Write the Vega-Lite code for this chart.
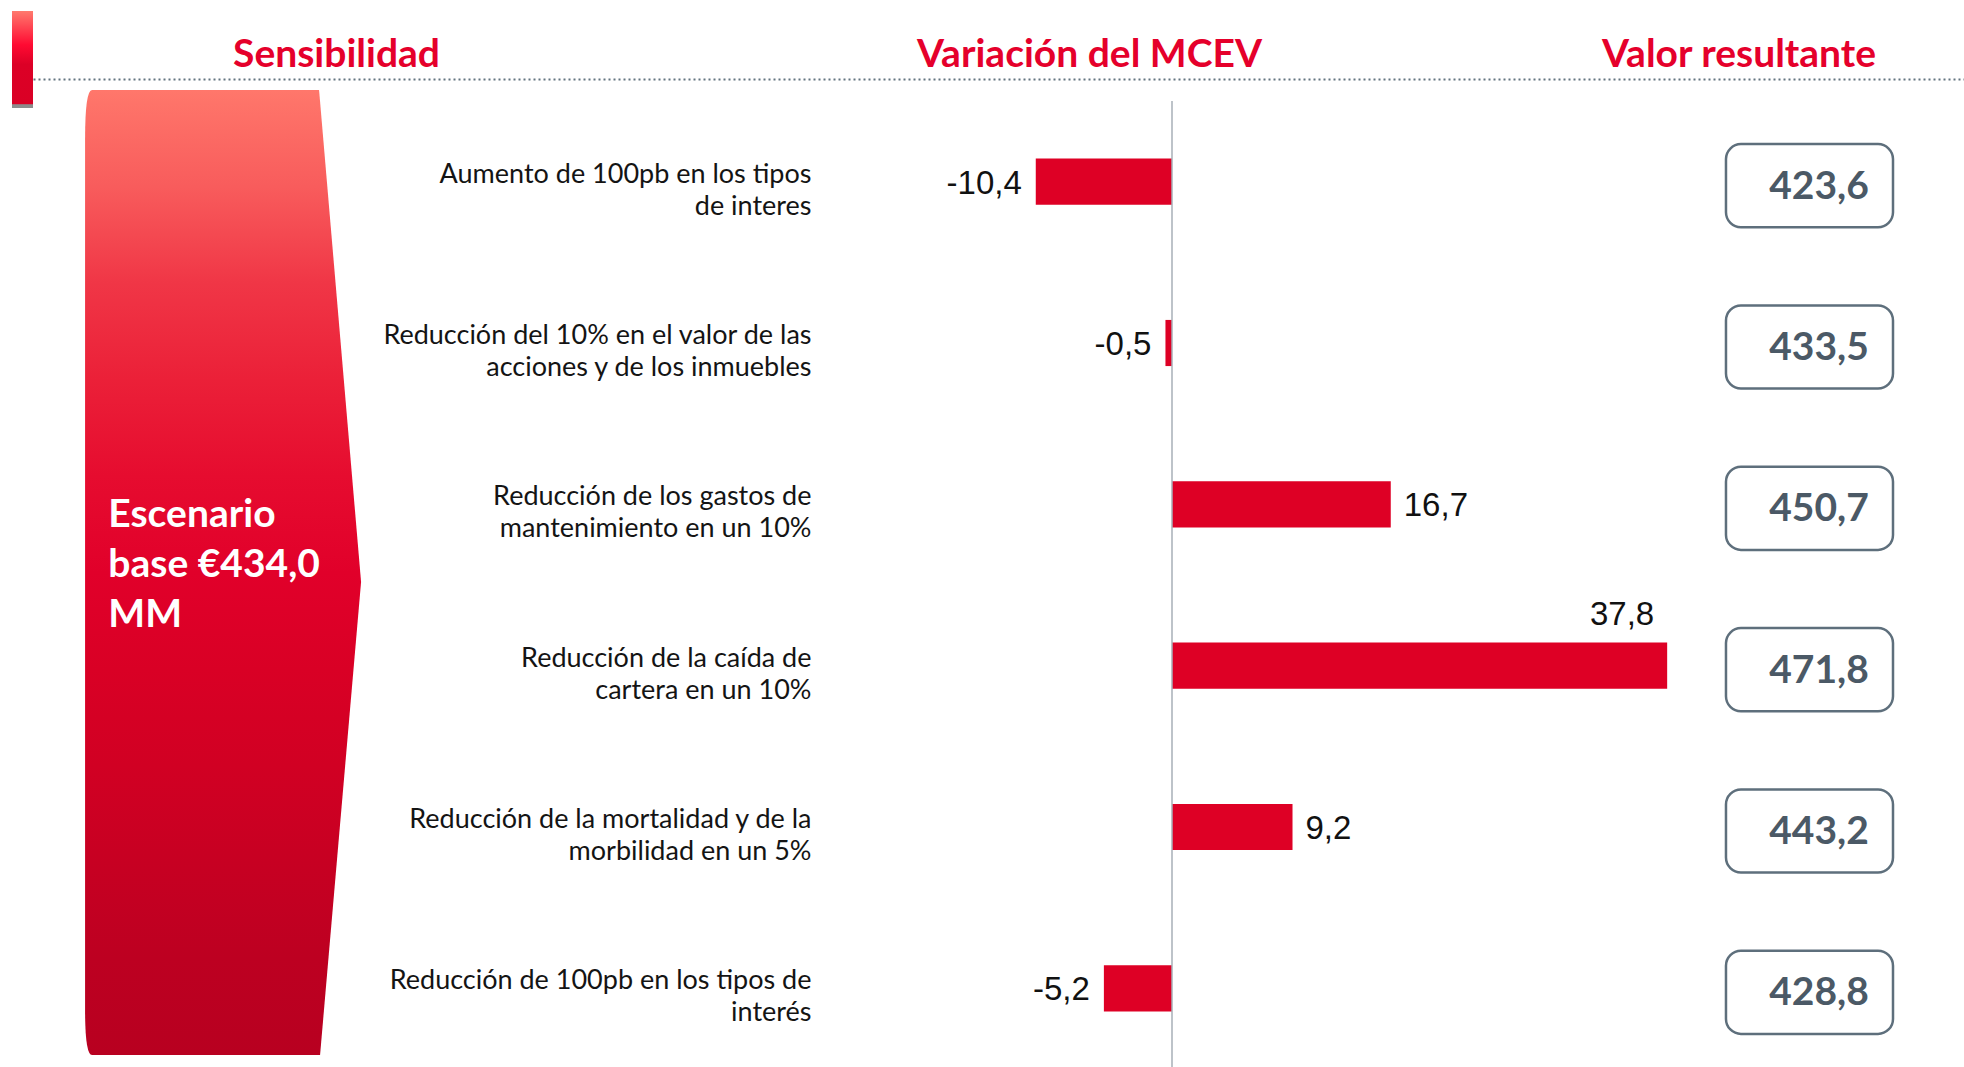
{
  "$schema": "https://vega.github.io/schema/vega-lite/v6.json",
  "autosize": "none",
  "width": 1931,
  "height": 968,
  "padding": {"left": 33, "top": 101, "right": 0, "bottom": 0},
  "background": "white",
  "config": {
    "font": "Lato",
    "view": {"stroke": null},
    "locale": {"number": {"decimal": ",", "thousands": ".", "grouping": [3], "currency": ["", " €"], "minus": "-"}}
  },
  "datasets": {
    "sensibilidades": [
      {"escenario": "Aumento de 100pb en los tipos\nde interes", "variacion": -10.4, "valor": 423.6},
      {"escenario": "Reducción del 10% en el valor de las\nacciones y de los inmuebles", "variacion": -0.5, "valor": 433.5},
      {"escenario": "Reducción de los gastos de\nmantenimiento en un 10%", "variacion": 16.7, "valor": 450.7},
      {"escenario": "Reducción de la caída de\ncartera en un 10%", "variacion": 37.8, "valor": 471.8},
      {"escenario": "Reducción de la mortalidad y de la\nmorbilidad en un 5%", "variacion": 9.2, "valor": 443.2},
      {"escenario": "Reducción de 100pb en los tipos de\ninterés", "variacion": -5.2, "valor": 428.8}
    ],
    "base": [{"texto": "Escenario\nbase €434,0\nMM", "mcev_base": 434.0}]
  },
  "resolve": {"axis": {"x": "independent", "y": "independent"}},
  "layer": [
    {
      "data": {"name": "base"},
      "mark": {
        "type": "point",
        "shape": "M -0.262 -0.99 L 0.192 -0.99 L 0.276 -0.006 L 0.194 0.94 L -0.262 0.94 Q -0.276 0.94 -0.276 0.85 L -0.276 -0.89 Q -0.276 -0.99 -0.262 -0.99 Z",
        "size": 1000000,
        "filled": true,
        "opacity": 1,
        "fillOpacity": 1,
        "strokeOpacity": 0,
        "fill": {
          "gradient": "linear", "x1": 0, "y1": 0, "x2": 0, "y2": 1,
          "stops": [
            {"offset": 0, "color": "#FF776B"},
            {"offset": 0.1, "color": "#F85C5C"},
            {"offset": 0.2, "color": "#F03646"},
            {"offset": 0.3, "color": "#EB2038"},
            {"offset": 0.4, "color": "#E60C2F"},
            {"offset": 0.5, "color": "#E1002A"},
            {"offset": 0.6, "color": "#D90025"},
            {"offset": 0.7, "color": "#D10023"},
            {"offset": 0.8, "color": "#C70022"},
            {"offset": 0.9, "color": "#BD0021"},
            {"offset": 1, "color": "#B80020"}
          ]
        }
      },
      "encoding": {
        "x": {"datum": -72.44, "type": "quantitative", "scale": {"domain": [-86.95, 60.46], "nice": false, "zero": false}, "axis": null}
      }
    },
    {
      "data": {"name": "base"},
      "mark": {
        "type": "point",
        "shape": "M -0.035 -0.9567 L 0 -0.9567 L 0 -0.795 L -0.035 -0.795 Z",
        "size": 1440000,
        "filled": true,
        "opacity": 1,
        "fillOpacity": 1,
        "strokeOpacity": 0,
        "fill": {
          "gradient": "linear", "x1": 0, "y1": 0, "x2": 0, "y2": 1,
          "stops": [
            {"offset": 0, "color": "#FF7A6E"},
            {"offset": 0.35, "color": "#FF0A32"},
            {"offset": 0.55, "color": "#DC0026"},
            {"offset": 0.96, "color": "#DA0025"},
            {"offset": 0.965, "color": "#8C8C8C"},
            {"offset": 1, "color": "#8C8C8C"}
          ]
        }
      },
      "encoding": {
        "x": {"datum": -86.95, "type": "quantitative", "scale": {"domain": [-86.95, 60.46], "nice": false, "zero": false}, "axis": null}
      }
    },
    {
      "data": {"name": "base"},
      "mark": {"type": "text", "align": "left", "baseline": "middle", "lineBreak": "\n", "lineHeight": 50, "font": "Lato", "fontSize": 39, "fontWeight": "bold", "color": "white", "dy": -70},
      "encoding": {
        "x": {"datum": -81.2, "type": "quantitative", "scale": {"domain": [-86.95, 60.46], "nice": false, "zero": false}, "axis": null},
        "text": {"field": "texto"}
      }
    },
    {
      "data": {"name": "sensibilidades"},
      "mark": {"type": "bar", "color": "#DE0025", "height": {"band": 0.286}},
      "encoding": {
        "y": {
          "field": "escenario", "type": "nominal", "sort": null,
          "scale": {"paddingInner": 0, "paddingOuter": 0},
          "axis": {
            "orient": "left", "offset": -778, "domain": false, "ticks": false, "grid": false,
            "labelPadding": 0, "labelAlign": "right", "labelBaseline": "middle",
            "labelFont": "Lato", "labelFontSize": 27, "labelColor": "#141414",
            "labelLineHeight": 32, "labelLimit": 700, "labelOffset": -7,
            "labelExpr": "split(datum.label, '\\n')",
            "title": "Sensibilidad", "titleAngle": 0, "titleX": -475, "titleY": -35,
            "titleAlign": "center", "titleBaseline": "alphabetic",
            "titleFont": "Lato", "titleFontSize": 39, "titleFontWeight": "bold", "titleColor": "#E5002B"
          }
        },
        "x": {
          "field": "variacion", "type": "quantitative",
          "scale": {"domain": [-86.95, 60.46], "nice": false, "zero": false},
          "axis": {
            "orient": "top", "offset": 22, "domain": true, "domainDash": [2, 3], "domainColor": "#62737F", "domainWidth": 2,
            "ticks": false, "labels": false, "grid": false,
            "title": "Variación del MCEV", "titleX": 1056, "titleY": -13, "titleAngle": 0,
            "titleAlign": "center", "titleBaseline": "alphabetic",
            "titleFont": "Lato", "titleFontSize": 39, "titleFontWeight": "bold", "titleColor": "#E5002B"
          }
        }
      }
    },
    {
      "data": {"name": "base"},
      "mark": {"type": "rule", "color": "#A7AFB7", "strokeWidth": 1.5},
      "encoding": {
        "x": {"datum": 0, "type": "quantitative", "scale": {"domain": [-86.95, 60.46], "nice": false, "zero": false}, "axis": null}
      }
    },
    {
      "data": {"name": "sensibilidades"},
      "transform": [{"filter": "datum.variacion <= 30"}],
      "mark": {
        "type": "text", "font": "Liberation Sans", "fontSize": 33, "color": "#111111", "baseline": "middle", "dy": 2,
        "align": {"expr": "datum.variacion < 0 ? 'right' : 'left'"},
        "dx": {"expr": "datum.variacion < 0 ? -14 : 13"}
      },
      "encoding": {
        "x": {"field": "variacion", "type": "quantitative", "scale": {"domain": [-86.95, 60.46], "nice": false, "zero": false}, "axis": null},
        "y": {"field": "escenario", "type": "nominal", "sort": null, "axis": null},
        "text": {"field": "variacion", "type": "quantitative", "format": ".1f"}
      }
    },
    {
      "data": {"name": "sensibilidades"},
      "transform": [{"filter": "datum.variacion > 30"}],
      "mark": {"type": "text", "font": "Liberation Sans", "fontSize": 33, "color": "#111111", "baseline": "alphabetic", "align": "right", "dx": -13, "dy": -41},
      "encoding": {
        "x": {"field": "variacion", "type": "quantitative", "scale": {"domain": [-86.95, 60.46], "nice": false, "zero": false}, "axis": null},
        "y": {"field": "escenario", "type": "nominal", "sort": null, "axis": null},
        "text": {"field": "variacion", "type": "quantitative", "format": ".1f"}
      }
    },
    {
      "data": {"name": "sensibilidades"},
      "mark": {"type": "bar", "height": {"band": 0.515}, "yOffset": 4, "fill": "white", "stroke": "#5E6F7C", "strokeWidth": 2.5, "cornerRadius": 15},
      "encoding": {
        "x": {"datum": 42.29, "type": "quantitative", "scale": {"domain": [-86.95, 60.46], "nice": false, "zero": false}, "axis": null},
        "x2": {"datum": 55.04},
        "y": {
          "field": "escenario", "type": "nominal", "sort": null,
          "axis": {
            "orient": "right", "domain": false, "ticks": false, "labels": false, "grid": false,
            "title": "Valor resultante", "titleAngle": 0, "titleX": -225.5, "titleY": -35,
            "titleAlign": "center", "titleBaseline": "alphabetic",
            "titleFont": "Lato", "titleFontSize": 39, "titleFontWeight": "bold", "titleColor": "#E5002B"
          }
        }
      }
    },
    {
      "data": {"name": "sensibilidades"},
      "mark": {"type": "text", "font": "Lato", "fontWeight": "bold", "fontSize": 39, "color": "#4B5966", "baseline": "middle", "align": "center", "dy": 5},
      "encoding": {
        "x": {"datum": 49.39, "type": "quantitative", "scale": {"domain": [-86.95, 60.46], "nice": false, "zero": false}, "axis": null},
        "y": {"field": "escenario", "type": "nominal", "sort": null, "axis": null},
        "text": {"field": "valor", "type": "quantitative", "format": ".1f"}
      }
    }
  ]
}
